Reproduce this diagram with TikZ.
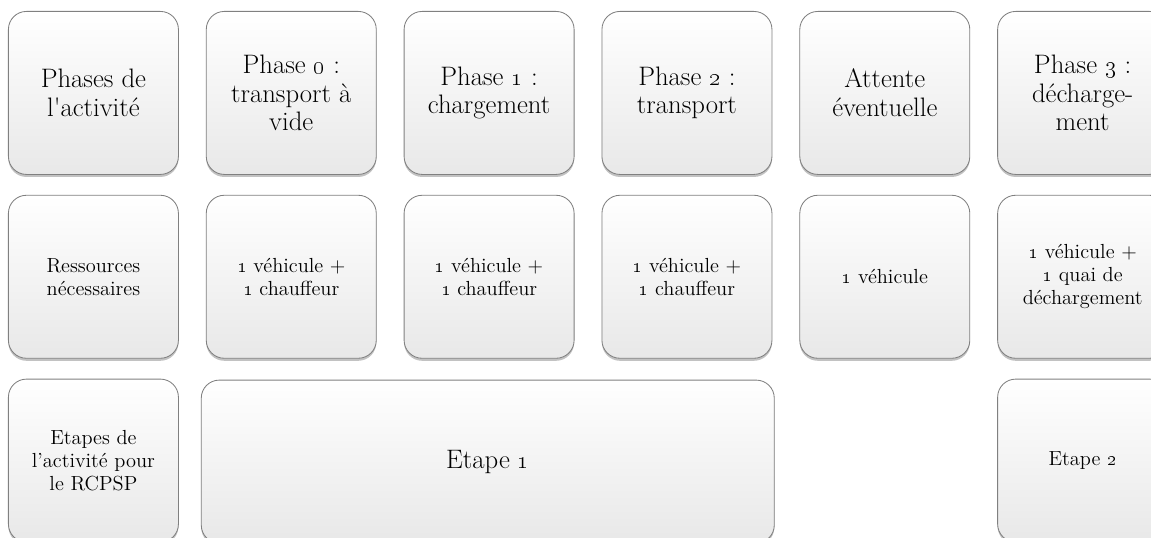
\documentclass[tikz,border=0pt]{standalone}
\usetikzlibrary{positioning, shadows, calc}

\begin{document}
\begin{tikzpicture}[
    node distance=0.5cm and 0.675cm,
    cell/.style={draw=black!50, line width=0.6pt, rectangle, rounded corners=0.45cm, minimum width=4.25cm, minimum height=4.075cm, align=center, top color=white, bottom color=black!9, drop shadow={shadow xshift=0pt, shadow yshift=-1.8pt, opacity=0.4, fill=black!60}},
    head/.style={cell, font=\fontsize{19}{20.5}\selectfont},
    res/.style={cell, font=\fontsize{14.5}{16.5}\selectfont}
]
    \useasboundingbox (0,0) rectangle (28.775,-13.45);

    % Phases
    \node[head, anchor=north west] (phases) at (0.2,-0.275) {Phases de\\l\textquotesingle activité};
    \node[head, right=of phases] (ph0) {Phase \oldstylenums{0} :\\transport à\\vide};
    \node[head, right=of ph0] (ph1) {Phase \oldstylenums{1} :\\chargement};
    \node[head, right=of ph1] (ph2) {Phase \oldstylenums{2} :\\transport};
    \node[head, right=of ph2] (wait) {Attente\\éventuelle};
    \node[head, right=of wait] (ph3) {Phase \oldstylenums{3} :\\décharge-\\ment};

    % Ressources
    \node[res, below=of phases] (res) {Ressources\\nécessaires};
    \node[res, below=of ph0] (res0) {\oldstylenums{1} véhicule +\\\oldstylenums{1} chauffeur};
    \node[res, below=of ph1] (res1) {\oldstylenums{1} véhicule +\\\oldstylenums{1} chauffeur};
    \node[res, below=of ph2] (res2) {\oldstylenums{1} véhicule +\\\oldstylenums{1} chauffeur};
    \node[res, below=of wait] (reswait) {\oldstylenums{1} véhicule};
    \node[res, below=of ph3] (res3) {\oldstylenums{1} véhicule +\\\oldstylenums{1} quai de\\déchargement};

    % Etapes
    \node[res, below=of res] (etapes) {Etapes de\\l’activité pour\\le RCPSP};
    \node[cell, font=\fontsize{19}{20.5}\selectfont, minimum width=14.325cm, anchor=north west] (etape1) at ($(res0.south west)+(-0.125,-0.525)$) {Etape \oldstylenums{1}};
    \node[res, below=of res3] (etape2) {Etape \oldstylenums{2}};

\end{tikzpicture}
\end{document}
